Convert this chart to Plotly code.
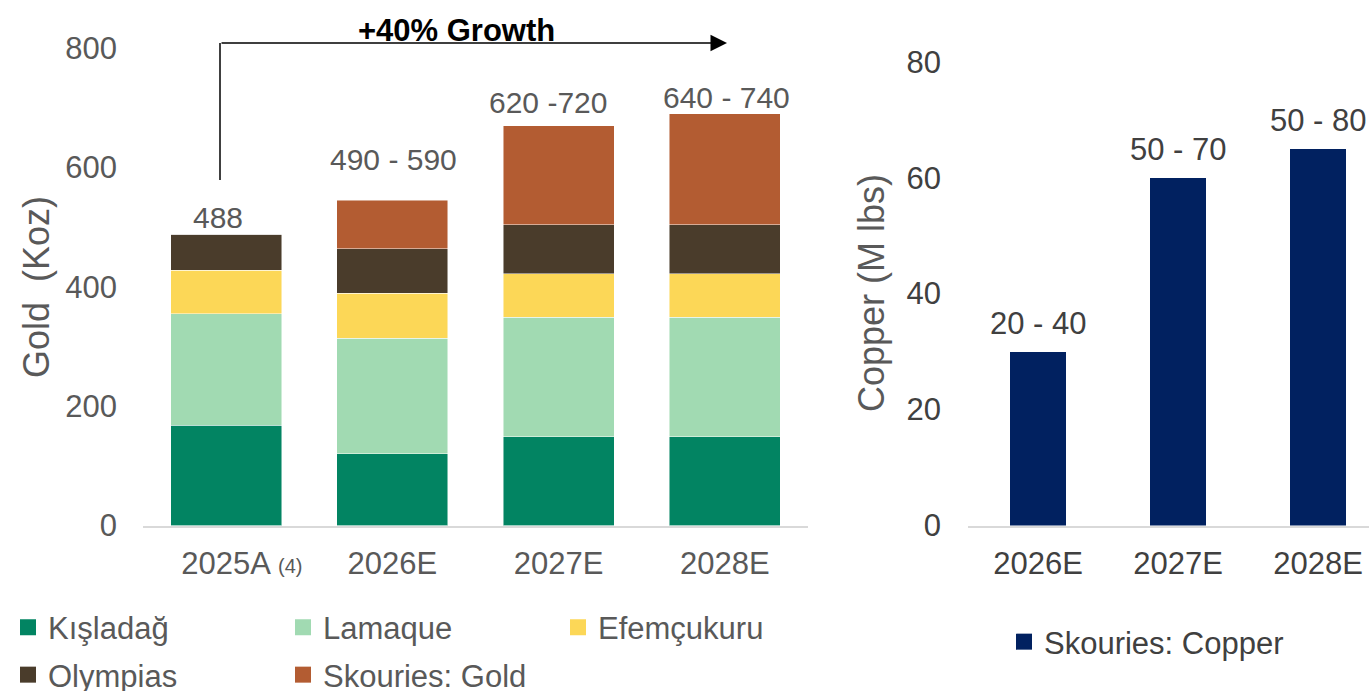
import plotly.graph_objects as go

# ---------------- data ----------------
years_gold = ["2025A", "2026E", "2027E", "2028E"]
kisladag = [168, 120, 149, 149]
lamaque = [187, 194, 200, 200]
efemcukuru = [73, 75, 73, 73]
olympias = [60, 75, 82, 82]
skouries_gold = [0, 81, 166, 186]
gold_labels = ["488", "490 - 590", "620 -720", "640 - 740"]

years_cu = ["2026E", "2027E", "2028E"]
copper = [30, 60, 65]
copper_labels = ["20 - 40", "50 - 70", "50 - 80"]

series = [
    ("Kışladağ", kisladag, "#028462"),
    ("Lamaque", lamaque, "#A1DAB2"),
    ("Efemçukuru", efemcukuru, "#FCD757"),
    ("Olympias", olympias, "#4A3C2B"),
    ("Skouries: Gold", skouries_gold, "#B35C32"),
]
CU_COLOR = "#012160"
GREY = "#595959"
DGREY = "#404040"
FONT = "Arial, Liberation Sans, sans-serif"

W, H = 1369, 691


def px(x):
    return x / W


def py(y):
    return (H - y) / H


fig = go.Figure()

for name, vals, col in series:
    fig.add_trace(go.Bar(
        x=years_gold, y=vals, name=name, width=0.667,
        marker=dict(color=col, line=dict(color="rgba(255,255,255,0.6)", width=0.8)),
        showlegend=False, xaxis="x", yaxis="y", hoverinfo="skip",
    ))

fig.add_trace(go.Bar(
    x=years_cu, y=copper, name="Skouries: Copper", width=0.4,
    marker=dict(color=CU_COLOR, line=dict(width=0)),
    showlegend=False, xaxis="x2", yaxis="y2", hoverinfo="skip",
))

# legend-only entries (square swatches)
legend_map = ["legend", "legend", "legend", "legend2", "legend2"]
for (name, vals, col), lg in zip(series, legend_map):
    fig.add_trace(go.Scatter(
        x=[None], y=[None], mode="markers", name=name,
        marker=dict(symbol="square", size=16, color=col),
        legend=lg, xaxis="x", yaxis="y",
    ))
fig.add_trace(go.Scatter(
    x=[None], y=[None], mode="markers", name="Skouries: Copper",
    marker=dict(symbol="square", size=16, color=CU_COLOR),
    legend="legend3", xaxis="x2", yaxis="y2",
))

totals = [sum(v) for v in zip(kisladag, lamaque, efemcukuru, olympias, skouries_gold)]

annotations = []
gold_yshift = [17, 41, 23, 16]
gold_xshift = [-8, 1, -11, 2]
for yr, tot, lab, ys, xs in zip(years_gold, totals, gold_labels, gold_yshift, gold_xshift):
    annotations.append(dict(
        x=yr, y=tot, xref="x", yref="y", text=lab, showarrow=False,
        yanchor="middle", xanchor="center", yshift=ys, xshift=xs,
        font=dict(size=30, color=GREY, family=FONT),
    ))
for yr, v, lab in zip(years_cu, copper, copper_labels):
    annotations.append(dict(
        x=yr, y=v, xref="x2", yref="y2", text=lab, showarrow=False,
        yanchor="middle", xanchor="center", yshift=28,
        font=dict(size=31, color=DGREY, family=FONT),
    ))

# "(4)" footnote marker next to 2025A
annotations.append(dict(
    x="2025A", y=0, xref="x", yref="y", text="(4)", showarrow=False,
    xanchor="center", yanchor="middle", xshift=64, yshift=-40,
    font=dict(size=20, color=GREY, family=FONT),
))

# axis titles
annotations.append(dict(
    x=px(36), y=py(287), xref="paper", yref="paper", text="Gold\u00a0 (Koz)",
    textangle=-90, showarrow=False, xanchor="center", yanchor="middle",
    font=dict(size=36, color=GREY, family=FONT),
))
annotations.append(dict(
    x=px(871), y=py(293), xref="paper", yref="paper", text="Copper (M lbs)",
    textangle=-90, showarrow=False, xanchor="center", yanchor="middle",
    font=dict(size=36, color=GREY, family=FONT),
))

# growth heading and arrow
annotations.append(dict(
    x=px(456), y=py(30), xref="paper", yref="paper", text="<b>+40% Growth</b>",
    showarrow=False, xanchor="center", yanchor="middle",
    font=dict(size=31, color="#000000", family=FONT),
))
annotations.append(dict(
    x=px(727), y=py(43), xref="paper", yref="paper", text="",
    ax=-(727 - 220), ay=0, axref="pixel", ayref="pixel",
    showarrow=True, arrowhead=2, arrowsize=2.2, arrowwidth=1.5, arrowcolor="#000000",
))

shapes = [dict(
    type="line", xref="paper", yref="paper",
    x0=px(220), x1=px(220), y0=py(180), y1=py(43),
    line=dict(color="#000000", width=1.5),
)]

axis_common = dict(showgrid=False, zeroline=False, fixedrange=True)

fig.update_layout(
    width=W, height=H, autosize=False,
    margin=dict(l=0, r=0, t=0, b=0, autoexpand=False),
    paper_bgcolor="white", plot_bgcolor="white",
    barmode="stack",
    font=dict(family=FONT, color=GREY, size=30),
    xaxis=dict(
        domain=[px(143), px(808)], range=[-0.5, 3.5], type="category",
        showline=True, linecolor="#D9D9D9", linewidth=2, ticks="",
        tickfont=dict(size=31, color=GREY), ticklabelstandoff=9, **axis_common,
        anchor="y",
    ),
    yaxis=dict(
        domain=[py(525.5), py(48.3)], range=[0, 800], tickvals=[0, 200, 400, 600, 800],
        showline=False, ticks="", tickfont=dict(size=31, color=GREY),
        ticklabelstandoff=25, anchor="x", **axis_common,
    ),
    xaxis2=dict(
        domain=[px(968), 1.0], range=[-0.5, 2.364], type="category",
        showline=True, linecolor="#D9D9D9", linewidth=2, ticks="",
        tickfont=dict(size=31, color=DGREY), ticklabelstandoff=9, anchor="y2",
        **axis_common,
    ),
    yaxis2=dict(
        domain=[py(525.5), py(61.7)], range=[0, 80], tickvals=[0, 20, 40, 60, 80],
        showline=False, ticks="", tickfont=dict(size=31, color=DGREY),
        ticklabelstandoff=26, anchor="x2", **axis_common,
    ),
    legend=dict(
        orientation="h", x=px(8), y=py(627.5), xanchor="left", yanchor="middle",
        entrywidth=230, entrywidthmode="pixels", traceorder="normal",
        font=dict(size=31, color=GREY),
        bgcolor="rgba(0,0,0,0)", itemclick=False, itemdoubleclick=False,
    ),
    legend2=dict(
        orientation="h", x=px(8), y=py(675), xanchor="left", yanchor="middle",
        entrywidth=230, entrywidthmode="pixels", traceorder="normal",
        font=dict(size=31, color=GREY),
        bgcolor="rgba(0,0,0,0)", itemclick=False, itemdoubleclick=False,
    ),
    legend3=dict(
        orientation="h", x=px(1004), y=py(642), xanchor="left", yanchor="middle",
        font=dict(size=31, color=DGREY), traceorder="normal",
        bgcolor="rgba(0,0,0,0)", itemclick=False, itemdoubleclick=False,
    ),
    annotations=annotations,
    shapes=shapes,
)

fig.write_html("out.html")
